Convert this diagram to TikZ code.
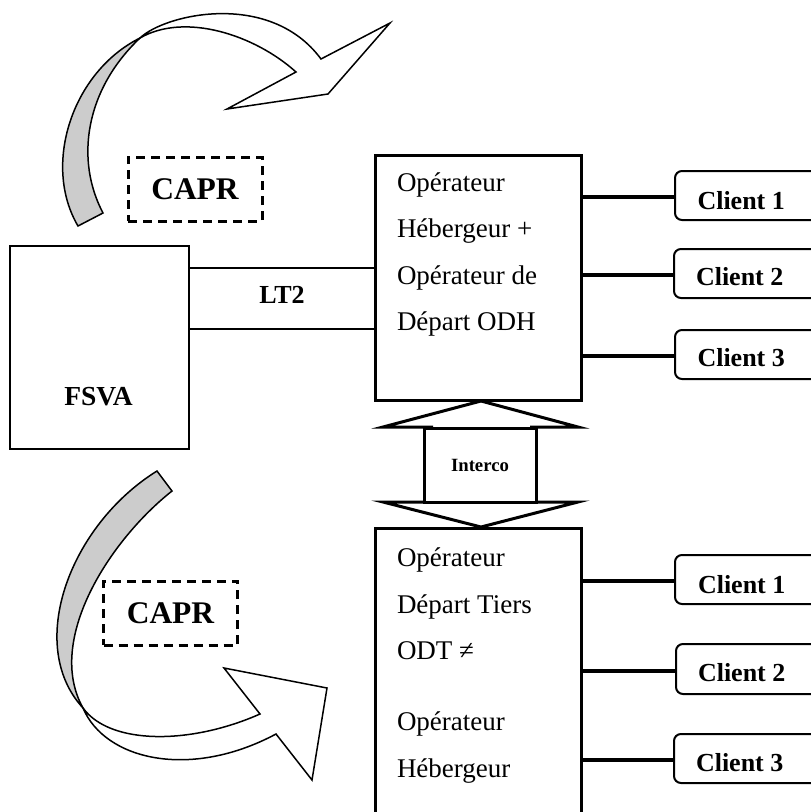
\documentclass[tikz,border=0pt]{standalone}
\usepackage{fontspec}
\setmainfont{Liberation Serif}
\tikzset{
  every node/.append style={outer sep=0pt},
  px/.style={x=1pt,y=-1pt},
  opbox/.style={draw,line width=3pt,anchor=north west,inner sep=0pt},
  clientbox/.style={draw,line width=2pt,rounded corners=7pt,anchor=west,minimum width=170pt,minimum height=49pt,inner sep=0pt},
  clienttext/.style={anchor=west,inner sep=0pt,font=\fontsize{26}{30}\selectfont\bfseries},
  optext/.style={anchor=north west,inner sep=0pt,align=left,font=\fontsize{27}{46.4}\selectfont},
  caprbox/.style={draw,line width=3pt,dash pattern=on 9pt off 6pt,minimum width=134pt,minimum height=64pt,inner sep=0pt,font=\fontsize{31.5}{36}\selectfont\bfseries},
  link/.style={line width=3.5pt},
  lt/.style={line width=2pt},
  bent/.style={line width=1.5pt,line join=miter},
  tri/.style={line width=3pt,line join=miter,fill=white},
  greyfill/.style={fill=black!20}
}
\begin{document}
\begin{tikzpicture}[px]
\useasboundingbox (0,0) rectangle (811,812);
% upper curved arrow
\draw[bent,greyfill] (78,226) .. controls (42,165) and (72,72) .. (140,38)
   .. controls (85,90) and (75,160) .. (103,213) -- cycle;
\draw[bent,fill=white] (140,38) .. controls (165,14) and (270,-10) .. (321,59)
   -- (390,23) -- (328,94) -- (227,109) -- (296,72)
   .. controls (255,35) and (185,12) .. (140,38) -- cycle;
% lower curved arrow
\draw[bent,greyfill] (157,471) .. controls (70,525) and (25,645) .. (83,708)
   .. controls (45,640) and (110,540) .. (172,491) -- cycle;
\draw[bent,fill=white] (83,708) .. controls (105,760) and (190,780) .. (276,734)
   -- (312,780) -- (327,688) -- (224,668) -- (260,714)
   .. controls (190,745) and (110,745) .. (83,708) -- cycle;
% boxes
\node[caprbox] (capra) at (195,189) {CAPR};
\node[caprbox] (caprb) at (170.5,613) {CAPR};
\node[draw,lt,anchor=north west,minimum width=179pt,minimum height=203pt,inner sep=0pt] (fsva) at (10,246) {};
\node[font=\fontsize{27.5}{30}\selectfont\bfseries] (fsvat) at (98.5,397) {FSVA};
\node[opbox,minimum width=206pt,minimum height=245pt] (opa) at (375,155) {};
\node[opbox,minimum width=206pt,minimum height=320pt] (opb) at (375,528) {};
\node[optext] (opat) at (397,172.5) {Opérateur\\Hébergeur +\\Opérateur de\\Départ ODH};
\node[optext] (opbt) at (397,548) {Opérateur\\Départ Tiers\\ODT ≠};
\node[optext] (opbu) at (397,712) {Opérateur\\Hébergeur};
% LT2
\coordinate (lta) at (fsva.east |- 0,268);
\coordinate (ltb) at (fsva.east |- 0,329);
\draw[lt] (lta) -- (lta -| opa.west);
\draw[lt] (ltb) -- (ltb -| opa.west);
\node[font=\fontsize{26}{30}\selectfont\bfseries] (ltt) at (282,295) {LT2};
% interco
\coordinate (ta) at (481,401);
\coordinate (tb) at (481,527);
\draw[tri] (433,427) -- (383,427) -- (ta) -- (578,427) -- (530,427);
\draw[tri] (433,502) -- (383,502) -- (tb) -- (578,502) -- (530,502);
\node[draw,line width=3pt,fill=white,minimum width=112pt,minimum height=74pt,inner sep=0pt,font=\fontsize{18.7}{22}\selectfont\bfseries] (interco) at (480,465) {Interco};
% clients
\node[clientbox] (ca) at (675,195.5) {};
\node[clientbox] (cb) at (674,273.5) {};
\node[clientbox] (cc) at (675,354.5) {};
\node[clientbox] (cd) at (675,579.5) {};
\node[clientbox,minimum height=50pt] (ce) at (676,669) {};
\node[clientbox] (cf) at (674,758.5) {};
\node[clienttext] (cat) at (697.5,200.5) {Client 1};
\node[clienttext] (cbt) at (696,277) {Client 2};
\node[clienttext] (cct) at (697.5,358) {Client 3};
\node[clienttext] (cdt) at (698,585) {Client 1};
\node[clienttext] (cet) at (698,673) {Client 2};
\node[clienttext] (cft) at (696,763) {Client 3};
\draw[link] ([yshift=-1.5pt]ca.west) -- ([yshift=-1.5pt]ca.west -| opa.east);
\draw[link] ([yshift=-1.5pt]cb.west) -- ([yshift=-1.5pt]cb.west -| opa.east);
\draw[link] ([yshift=-1.5pt]cc.west) -- ([yshift=-1.5pt]cc.west -| opa.east);
\draw[link] ([yshift=-1.5pt]cd.west) -- ([yshift=-1.5pt]cd.west -| opb.east);
\draw[link] ([yshift=-2pt]ce.west) -- ([yshift=-2pt]ce.west -| opb.east);
\draw[link] ([yshift=-1.5pt]cf.west) -- ([yshift=-1.5pt]cf.west -| opb.east);
\end{tikzpicture}
\end{document}
